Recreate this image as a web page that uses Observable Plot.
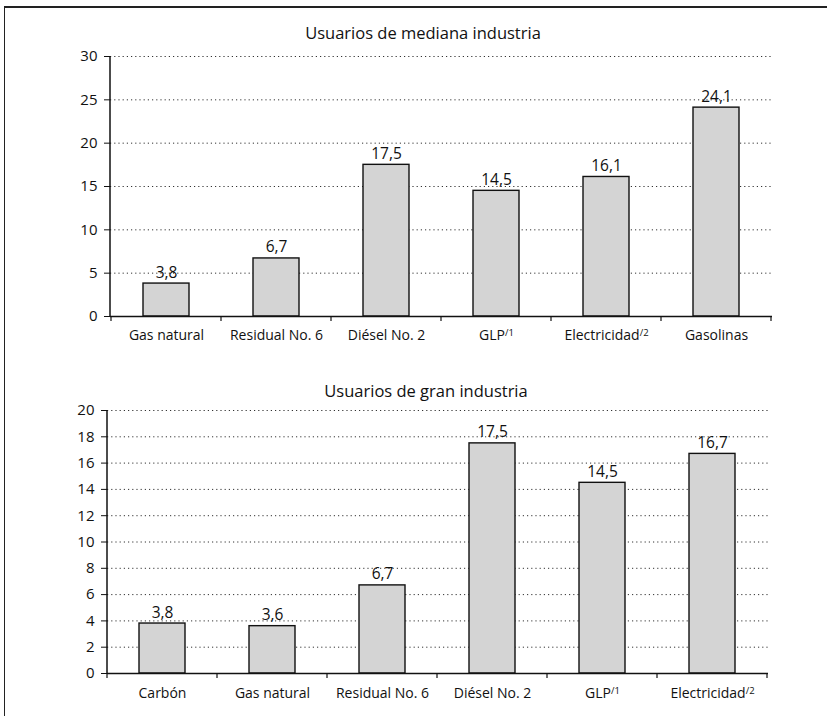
<!DOCTYPE html>
<html>
<head>
<meta charset="utf-8">
<script src="https://cdn.jsdelivr.net/npm/d3@7"></script>
<script src="https://cdn.jsdelivr.net/npm/@observablehq/plot@0.6"></script>
<style>
  html, body { margin: 0; padding: 0; background: #fff; }
  #wrap { position: relative; width: 827px; height: 716px; overflow: hidden; font-family: "Open Sans", sans-serif; }
  #frame { position: absolute; left: 4px; top: 6px; width: 840px; height: 720px; border-left: 1.5px solid #222; border-top: 2px solid #222; }
  .title { position: absolute; font-size: 16.5px; line-height: 22px; color: #111; text-align: center; width: 400px; }
  .chart { position: absolute; left: 0; }
</style>
</head>
<body>
<div id="wrap">
  <div id="frame"></div>
  <div class="title" id="t1" style="left:223px; top:22px;">Usuarios de mediana industria</div>
  <div class="chart" id="c1" style="top:40px;"></div>
  <div class="title" id="t2" style="left:226px; top:380px;">Usuarios de gran industria</div>
  <div class="chart" id="c2" style="top:395px;"></div>
</div>
<script>
// Usuarios de mediana industria
const medianaCats = ["Gas natural", "Residual No. 6", "Diésel No. 2", "GLP/1", "Electricidad/2", "Gasolinas"];
const medianaVals = [3.8, 6.7, 17.5, 14.5, 16.1, 24.1];
const medianaTicks = [0, 5, 10, 15, 20, 25, 30];

// Usuarios de gran industria
const granCats = ["Carbón", "Gas natural", "Residual No. 6", "Diésel No. 2", "GLP/1", "Electricidad/2"];
const granVals = [3.8, 3.6, 6.7, 17.5, 14.5, 16.7];
const granTicks = [0, 2, 4, 6, 8, 10, 12, 14, 16, 18, 20];

const fmt = v => String(v.toFixed(1)).replace(".", ",");

function makeChart(cats, vals, ticks, opts) {
  const data = cats.map((c, i) => ({cat: c, val: vals[i]}));
  const width = 827;
  const ymax = ticks[ticks.length - 1];
  return Plot.plot({
    width, height: opts.height,
    marginLeft: opts.ml, marginRight: opts.mr, marginTop: opts.mt, marginBottom: opts.mb,
    style: {fontFamily: "'Open Sans', sans-serif", fontSize: "14px", color: "#111", background: "transparent"},
    x: {domain: cats, paddingInner: 0.58, paddingOuter: 0.29, label: null},
    y: {domain: [0, ymax], label: null},
    marks: [
      Plot.gridY(ticks.slice(1), {stroke: "#333", strokeOpacity: 1, strokeDasharray: "1.2,3", strokeWidth: 1}),
      Plot.barY(data, {x: "cat", y: "val", fill: "#d4d4d4", stroke: "#111", strokeWidth: 1.4}),
      Plot.text(data, {x: "cat", y: "val", text: d => fmt(d.val), lineAnchor: "bottom", dy: -6, fontSize: 15.5, fill: "#111"}),
      Plot.axisY(ticks, {tickSize: 6, tickPadding: 7, fontSize: 15, stroke: "#111", tickFormat: d => String(d)}),
      Plot.ruleY([0], {stroke: "#111", strokeWidth: 1.5}),
      Plot.axisX({tickSize: 0, tickPadding: opts.tp, fontSize: 14})
    ]
  });
}

function build(el, cats, vals, ticks, opts) {
  const plot = makeChart(cats, vals, ticks, opts);
  document.getElementById(el).appendChild(plot);
  const svg = d3.select(plot);
  const xs = plot.scale("x");
  const y0 = opts.height - opts.mb;
  // y axis vertical line
  svg.append("line").attr("x1", opts.ml).attr("x2", opts.ml).attr("y1", opts.mt).attr("y2", y0)
    .attr("stroke", "#111").attr("stroke-width", 1.5);
  // category boundary tick marks below the x axis (Excel-style)
  const step = xs.step;
  const bounds = cats.map(c => xs.apply(c) - (step - xs.bandwidth) / 2);
  bounds.push(bounds[bounds.length - 1] + step);
  bounds.forEach(x => {
    svg.append("line").attr("x1", x).attr("x2", x).attr("y1", y0).attr("y2", y0 + 5)
      .attr("stroke", "#111").attr("stroke-width", 1.2);
  });
  // superscripts on category labels
  svg.selectAll("text").each(function() {
    const t = d3.select(this);
    const txt = this.textContent;
    const m = txt.match(/^(.*)(\/\d)$/);
    if (m && this.childElementCount === 0) {
      t.text(null);
      t.append("tspan").text(m[1]);
      t.append("tspan").attr("dy", "-0.5em").attr("font-size", "9.5px").text(m[2]);
    }
  });
}

build("c1", medianaCats, medianaVals, medianaTicks, {height: 310, mt: 16, mb: 34, ml: 110, mr: 55, tp: 14});
build("c2", granCats, granVals, granTicks, {height: 320, mt: 15, mb: 42, ml: 107, mr: 59, tp: 15});
</script>
</body>
</html>
